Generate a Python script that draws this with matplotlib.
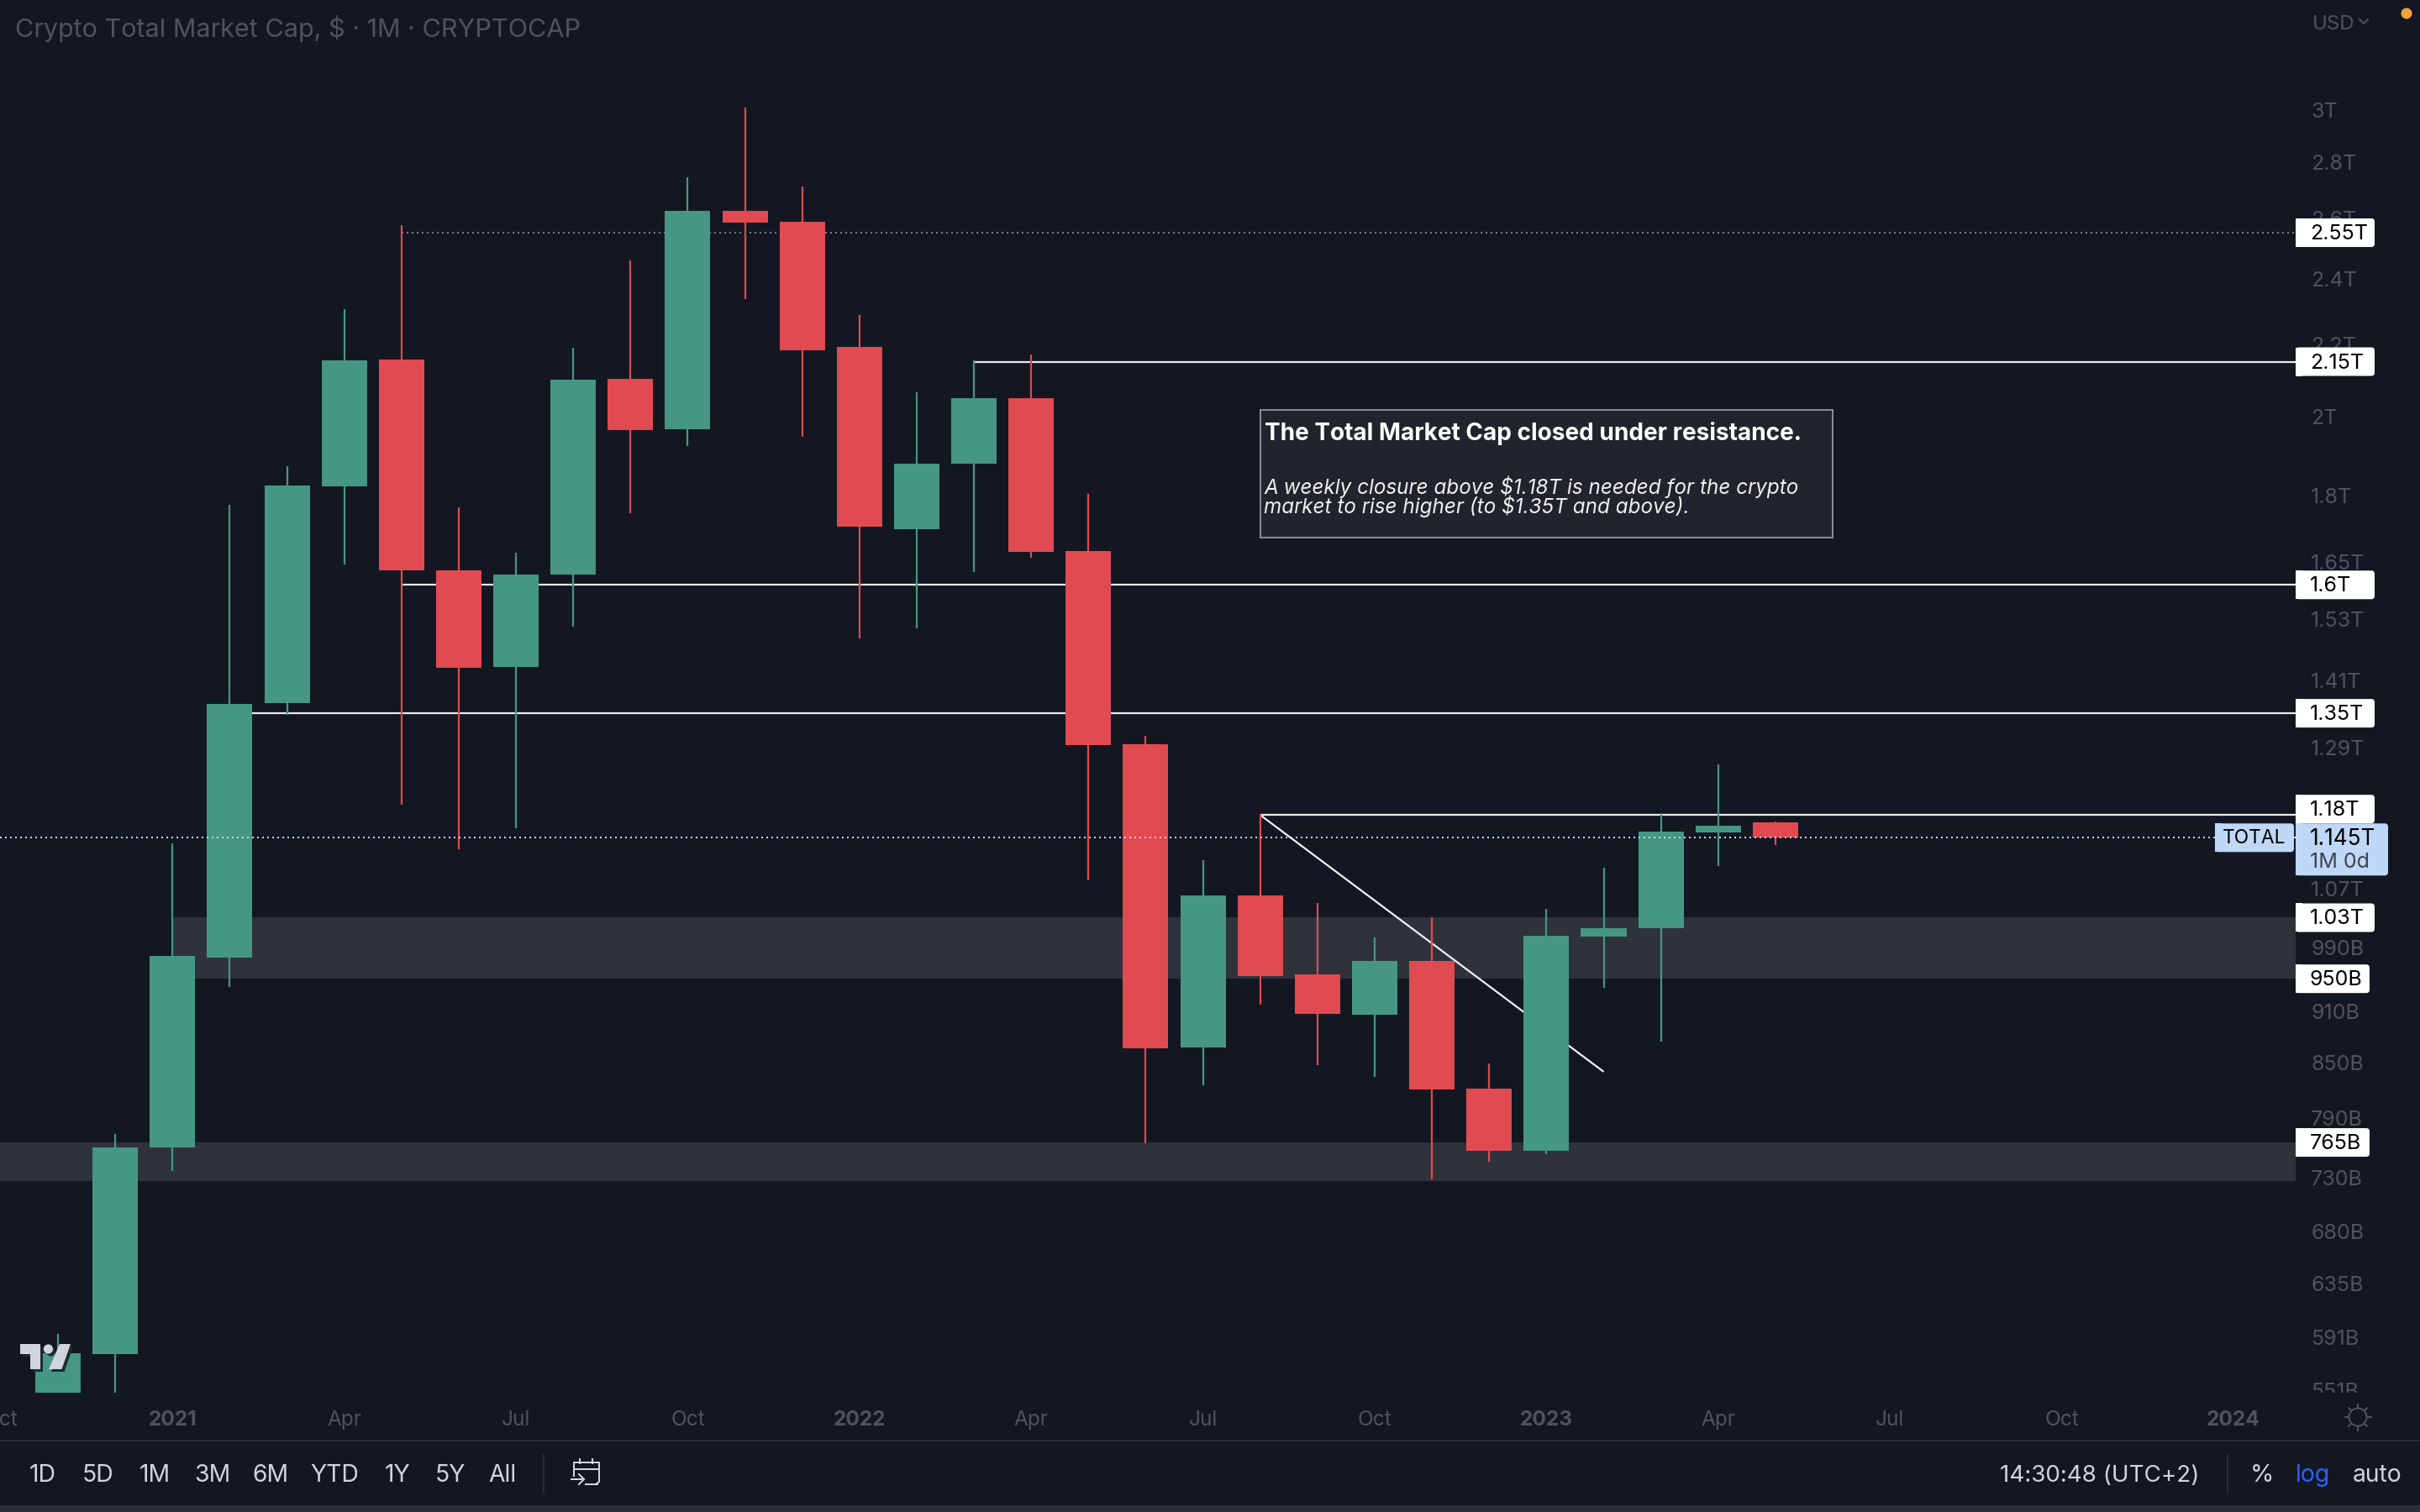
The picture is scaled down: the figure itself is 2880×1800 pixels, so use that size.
import matplotlib
matplotlib.use("Agg")
import matplotlib.pyplot as plt
from matplotlib.patches import FancyBboxPatch, Rectangle, Circle, Polygon
from matplotlib.transforms import Bbox

plt.rcParams['font.family'] = ['Inter', 'DejaVu Sans']

# ---------- data (trillions of USD, monthly candles Nov 2020 .. May 2023) ----------
months = ['2020-11', '2020-12',
          '2021-01', '2021-02', '2021-03', '2021-04', '2021-05', '2021-06',
          '2021-07', '2021-08', '2021-09', '2021-10', '2021-11', '2021-12',
          '2022-01', '2022-02', '2022-03', '2022-04', '2022-05', '2022-06',
          '2022-07', '2022-08', '2022-09', '2022-10', '2022-11', '2022-12',
          '2023-01', '2023-02', '2023-03', '2023-04', '2023-05']
opens = [0.530, 0.578, 0.760, 0.977, 1.368, 1.823, 2.156, 1.631,
         1.435, 1.622, 2.102, 1.966, 2.625, 2.587,
         2.192, 1.722, 1.878, 2.049, 1.673, 1.296,
         0.8675, 1.061, 0.956, 0.906, 0.973, 0.821,
         0.7565, 1.0045, 1.016, 1.153, 1.1685]
highs = [0.594, 0.7735, 1.136, 1.779, 1.872, 2.305, 2.576, 1.773,
         1.670, 2.190, 2.458, 2.745, 3.010, 2.711,
         2.287, 2.065, 2.154, 2.171, 1.805, 1.310,
         1.111, 1.182, 1.050, 1.003, 1.031, 0.849,
         1.042, 1.100, 1.183, 1.262, 1.170]
lows = [0.510, 0.548, 0.737, 0.940, 1.347, 1.644, 1.196, 1.128,
        1.159, 1.514, 1.759, 1.923, 2.336, 1.946,
        1.4905, 1.5105, 1.627, 1.6585, 1.0825, 0.764,
        0.825, 0.918, 0.847, 0.834, 0.7285, 0.746,
        0.753, 0.939, 0.874, 1.103, 1.134]
closes = [0.579, 0.760, 0.979, 1.367, 1.825, 2.154, 1.631, 1.434,
          1.622, 2.099, 1.964, 2.625, 2.5845, 2.183,
          1.728, 1.878, 2.049, 1.6715, 1.294, 0.8665,
          1.061, 0.953, 0.907, 0.973, 0.8205, 0.7565,
          1.006, 1.016, 1.154, 1.163, 1.145]

xtick_pos = [-1, 2, 5, 8, 11, 14, 17, 20, 23, 26, 29, 32, 35, 38]
xtick_labels = ['Oct', '2021', 'Apr', 'Jul', 'Oct', '2022', 'Apr', 'Jul', 'Oct',
                '2023', 'Apr', 'Jul', 'Oct', '2024']
ytick_vals = [3.0, 2.8, 2.6, 2.4, 2.2, 2.0, 1.8, 1.65, 1.53, 1.41, 1.29, 1.07,
              0.99, 0.91, 0.85, 0.79, 0.73, 0.68, 0.635, 0.591, 0.551]
ytick_labels = ['3T', '2.8T', '2.6T', '2.4T', '2.2T', '2T', '1.8T', '1.65T', '1.53T',
                '1.41T', '1.29T', '1.07T', '990B', '910B', '850B', '790B', '730B',
                '680B', '635B', '591B', '551B']

level_vals = [2.55, 2.15, 1.6, 1.35, 1.18]
level_labels = ['2.55T', '2.15T', '1.6T', '1.35T', '1.18T']
level_starts = [6, 16, 6, 3, 21]
zone_low = [0.95, 0.727]
zone_high = [1.03, 0.765]
zone_starts = [2, -2]
trend_x = [21, 27]
trend_y = [1.18, 0.84]
last_price = 1.145

# ---------- colours ----------
BG = '#131722'
GREEN = '#459782'
RED = '#E14A50'
ZONE = '#2F323B'
GRID_TXT = '#50535E'
TOOL_TXT = '#D1D4DC'
SEP = '#2A2E39'
PRICE = '#BFD8F8'

W, H = 2880, 1800
PANE_R, PANE_B = 2732, 1658
PX = 72 / 200

fig = plt.figure(figsize=(W / 200, H / 200), dpi=200, facecolor=BG)
ax = fig.add_axes([0, (H - PANE_B) / H, PANE_R / W, PANE_B / H], facecolor=BG)
ax.set_yscale('log')
ax.set_xlim(-1.0128, 39.087)
ax.set_ylim(0.5493, 3.4697)
for s in ax.spines.values():
    s.set_visible(False)

# zones and levels sit under the candles
xr = 39.087
for lo, hi, st in zip(zone_low, zone_high, zone_starts):
    ax.fill_between([st, xr], lo, hi, color=ZONE, lw=0, zorder=1)
for v, st, lab in zip(level_vals, level_starts, level_labels):
    if lab == '2.55T':
        ax.hlines(v, st, xr, color='#7E8087', lw=2 * PX, linestyles=(0, (1, 2)), zorder=2)
    else:
        ax.hlines(v, st, xr, color='#ECECEC', lw=2.2 * PX, zorder=2)
ax.plot(trend_x, trend_y, color='#F2F2F2', lw=2.2 * PX, zorder=2, solid_capstyle='butt')

# candles
idx = list(range(len(months)))
for i, o, h, l, c in zip(idx, opens, highs, lows, closes):
    col = GREEN if c >= o else RED
    ax.vlines(i, l, h, color=col, lw=2.2 * PX, zorder=3)
    ax.bar(i, abs(c - o), bottom=min(o, c), width=0.793, color=col, lw=0, zorder=4)

ax.axhline(last_price, color=PRICE, lw=2 * PX, linestyle=(0, (1, 2)), zorder=5)

# axes
ax.set_xticks(xtick_pos)
ax.set_xticklabels(xtick_labels, fontsize=8.8, color=GRID_TXT)
for t, lab in zip(ax.get_xticklabels(), xtick_labels):
    if lab.isdigit():
        t.set_fontweight('bold')
ax.tick_params(axis='x', length=0, pad=7.6)
ax.set_yticks(ytick_vals)
ax.set_yticklabels(ytick_labels, fontsize=9.0, color=GRID_TXT)
ax.minorticks_off()
ax.yaxis.tick_right()
ax.tick_params(axis='y', length=0, pad=18 * PX)
clip = Bbox([[PANE_R, H - PANE_B], [W, H]])
for t in ax.get_yticklabels():
    t.set_clip_on(True)
    t.set_clip_box(clip)

# overlay in pixel coordinates for the chart chrome
ov = fig.add_axes([0, 0, 1, 1], facecolor='none')
ov.set_xlim(0, W)
ov.set_ylim(H, 0)
ov.axis('off')


def ypx(v):
    return H - ax.transData.transform((0, v))[1]


def box(x0, x1, y0, y1, color, rad=4, z=10):
    ov.add_patch(FancyBboxPatch((x0 + rad, y0 + rad), x1 - x0 - 2 * rad, y1 - y0 - 2 * rad,
                                boxstyle=f'round,pad={rad},rounding_size={rad}',
                                fc=color, ec='none', lw=0, zorder=z))
    ov.add_patch(Rectangle((x0, y0), rad * 2, y1 - y0, fc=color, ec='none', lw=0, zorder=z))


# level tags
for v, lab in zip(level_vals + [1.03, 0.95, 0.765], level_labels + ['1.03T', '950B', '765B']):
    y = ypx(v)
    if lab == '1.18T':
        y = ypx(v) - 7
    x1 = 2820 if lab.endswith('B') else 2826
    box(PANE_R, x1, y - 17, y + 17, 'white')
    ov.text(2749, y + 1.5, lab, color='black', fontsize=9.0, va='center', ha='left', zorder=11)

# last price tags
y = ypx(last_price)
box(2636, 2730, y - 17, y + 17, PRICE)
ov.text(2683, y + 1, 'TOTAL', color='black', fontsize=8.2, va='center', ha='center', zorder=11)
box(PANE_R, 2842, y - 17, y + 45, PRICE)
ov.text(2749, y + 1.5, '1.145T', color='black', fontsize=9.4, va='center', ha='left', zorder=11)
ov.text(2749, y + 29.5, '1M 0d', color='#3F4450', fontsize=9.0, va='center', ha='left', zorder=11)

# note box
ov.add_patch(Rectangle((1500, 488), 681, 152, fc='#21242C', ec='#8A8C90', lw=2 * PX, zorder=8))
ov.text(1505, 516, 'The Total Market Cap closed under resistance.', color='white',
        fontsize=10.08, fontweight='bold', va='center', ha='left', zorder=9)
ov.text(1504, 580, 'A weekly closure above $1.18T is needed for the crypto', color='#F0F0F0',
        fontsize=8.72, style='italic', va='center', ha='left', zorder=9)
ov.text(1504, 603, 'market to rise higher (to $1.35T and above).', color='#F0F0F0',
        fontsize=8.72, style='italic', va='center', ha='left', zorder=9)

# header
ov.text(18, 34, 'Crypto Total Market Cap, $ · 1M · CRYPTOCAP', color=GRID_TXT, fontsize=11.0,
        va='center', ha='left')
ov.text(2752, 29, 'USD', color=GRID_TXT, fontsize=8.6, va='center', ha='left')
ov.plot([2808, 2813, 2818], [23, 28, 23], color=GRID_TXT, lw=2 * PX)
ov.add_patch(Circle((2864, 16), 6.5, fc='#F2A33A', ec='none'))

# logo
LOGO = '#D1D4DC'
shadow = '#1B2C36'
for dx, dy, col, z in ((3, 3, shadow, 6), (0, 0, LOGO, 7)):
    ov.add_patch(Polygon([(24 + dx, 1600 + dy), (48 + dx, 1600 + dy), (48 + dx, 1630 + dy),
                          (36 + dx, 1630 + dy), (36 + dx, 1612 + dy), (24 + dx, 1612 + dy)],
                         fc=col, ec='none', zorder=z))
    ov.add_patch(Polygon([(71 + dx, 1600 + dy), (84 + dx, 1600 + dy), (73.5 + dx, 1630 + dy),
                          (58 + dx, 1630 + dy)], fc=col, ec='none', zorder=z))
    ov.add_patch(Circle((57.4 + dx, 1606 + dy), 5.6, fc=col, ec='none', zorder=z))

# sun icon
cx, cy, r = 2806, 1687, 10.5
ov.add_patch(Circle((cx, cy), r, fc='none', ec=GRID_TXT, lw=2 * PX))
for ddx, ddy in ((1, 0), (-1, 0), (0, 1), (0, -1), (.707, .707), (-.707, .707), (.707, -.707), (-.707, -.707)):
    ov.plot([cx + ddx * (r + 1), cx + ddx * (r + 5)], [cy + ddy * (r + 1), cy + ddy * (r + 5)],
            color=GRID_TXT, lw=2 * PX)

# toolbar
ov.add_patch(Rectangle((0, 1714), W, 2, fc=SEP, ec='none'))
ov.add_patch(Rectangle((0, 1792), W, 8, fc=SEP, ec='none'))
for lab, x in zip(['1D', '5D', '1M', '3M', '6M', 'YTD', '1Y', '5Y', 'All'],
                  [51, 116, 184, 253, 322, 398, 473, 536, 598]):
    ov.text(x, 1757, lab, color=TOOL_TXT, fontsize=10.2, va='center', ha='center')
ov.plot([647, 647], [1732, 1776], color=SEP, lw=2 * PX)
ov.plot([2651, 2651], [1732, 1776], color=SEP, lw=2 * PX)
ov.text(2499, 1757, '14:30:48 (UTC+2)', color=TOOL_TXT, fontsize=10.0, va='center', ha='center')
ov.text(2692, 1757, '%', color=TOOL_TXT, fontsize=10.4, va='center', ha='center')
ov.text(2753, 1757, 'log', color='#2962FF', fontsize=10.2, va='center', ha='center')
ov.text(2829, 1757, 'auto', color=TOOL_TXT, fontsize=10.2, va='center', ha='center')

# calendar icon
for xs, ys in (([683, 683, 713, 713, 709], [1757, 1741, 1741, 1764, 1767]),
               ([683, 713], [1749, 1749]),
               ([690, 690], [1737, 1742]), ([705, 705], [1737, 1742]),
               ([697, 711], [1767, 1767]),
               ([680, 695], [1761, 1761]), ([689, 695, 689], [1755, 1761, 1767])):
    ov.plot(xs, ys, color=TOOL_TXT, lw=2 * PX)

fig.savefig('out.png', dpi=200, facecolor=BG)
